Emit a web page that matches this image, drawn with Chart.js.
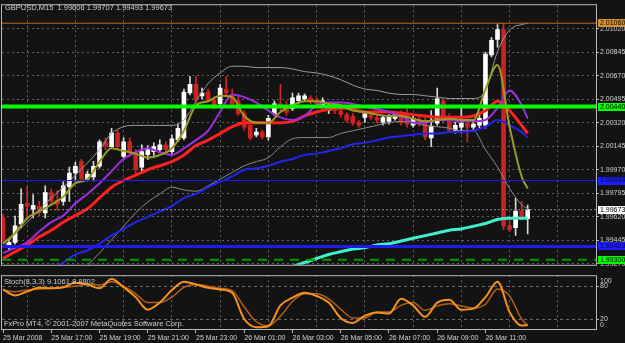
<!DOCTYPE html>
<html>
<head>
<meta charset="utf-8">
<script src="https://cdn.jsdelivr.net/npm/chart.js@4.4.1/dist/chart.umd.min.js"></script>
<style>
  html, body { margin: 0; padding: 0; background: #131313; }
  #wrap { position: relative; width: 625px; height: 343px; overflow: hidden; }
  #priceChart { position: absolute; left: 0; top: 0; }
  #stochChart { position: absolute; left: 0; top: 270px; }
</style>
</head>
<body>
<div id="wrap">
  <canvas id="priceChart" width="625" height="270"></canvas>
  <canvas id="stochChart" width="625" height="73"></canvas>
</div>
<script>
const symbol = 'GBPUSD,M15'

// time axis labels, one every 8 bars (2 hours of M15)
const timeLabels = ['25 Mar 2008', '25 Mar 17:00', '25 Mar 19:00', '25 Mar 21:00', '25 Mar 23:00',
  '26 Mar 01:00', '26 Mar 03:00', '26 Mar 05:00', '26 Mar 07:00', '26 Mar 09:00', '26 Mar 11:00']
const labelBars = [0, 8, 16, 24, 32, 40, 48, 56, 64, 72, 80]

// candles, bar 0 = 25 Mar 15:00
const open = [1.99612, 1.99401, 1.99430, 1.99568, 1.99720, 1.99677, 1.99699, 1.99648, 1.99800, 1.99742,
  1.99735, 1.99844, 1.99946, 2.00033, 1.99902, 1.99916, 1.99996, 2.00178, 2.00142, 2.00243,
  2.00069, 2.00178, 2.00098, 1.99989, 2.00083, 2.00105, 2.00120, 2.00156, 2.00105, 2.00192,
  2.00207, 2.00541, 2.00606, 2.00519, 2.00548, 2.00490, 2.00461, 2.00570, 2.00519, 2.00483,
  2.00388, 2.00301, 2.00229, 2.00250, 2.00214, 2.00388, 2.00461, 2.00446, 2.00425, 2.00483,
  2.00497, 2.00505, 2.00483, 2.00454, 2.00410, 2.00439, 2.00410, 2.00381, 2.00367, 2.00323,
  2.00359, 2.00381, 2.00359, 2.00323, 2.00330, 2.00352, 2.00396, 2.00388, 2.00301, 2.00345,
  2.00338, 2.00207, 2.00316, 2.00483, 2.00352, 2.00265, 2.00287, 2.00316, 2.00287, 2.00301,
  2.00301, 2.00824, 2.00940, 2.01013, 1.99553, 1.99539, 1.99662, 1.99606]
const high = [1.99641, 1.99452, 1.99626, 1.99829, 1.99844, 1.99786, 1.99735, 1.99851, 1.99829, 1.99815,
  1.99880, 1.99989, 2.00025, 2.00047, 1.99960, 2.00033, 2.00192, 2.00207, 2.00279, 2.00265,
  2.00207, 2.00207, 2.00120, 2.00156, 2.00149, 2.00171, 2.00192, 2.00178, 2.00229, 2.00309,
  2.00570, 2.00664, 2.00664, 2.00577, 2.00570, 2.00512, 2.00606, 2.00664, 2.00570, 2.00512,
  2.00410, 2.00323, 2.00279, 2.00265, 2.00374, 2.00483, 2.00606, 2.00483, 2.00541, 2.00541,
  2.00534, 2.00519, 2.00505, 2.00505, 2.00468, 2.00461, 2.00432, 2.00396, 2.00388, 2.00338,
  2.00403, 2.00396, 2.00374, 2.00374, 2.00381, 2.00396, 2.00410, 2.00425, 2.00374, 2.00367,
  2.00359, 2.00410, 2.00577, 2.00497, 2.00388, 2.00323, 2.00446, 2.00338, 2.00330, 2.00374,
  2.00846, 2.00955, 2.01050, 2.01060, 1.99597, 1.99757, 1.99735, 1.99707]
const low = [1.99423, 1.99372, 1.99416, 1.99539, 1.99612, 1.99612, 1.99626, 1.99612, 1.99706, 1.99670,
  1.99706, 1.99735, 1.99887, 1.99880, 1.99887, 1.99887, 1.99982, 2.00120, 2.00127, 2.00120,
  2.00047, 2.00069, 1.99938, 1.99946, 2.00047, 2.00076, 2.00105, 2.00098, 2.00091, 2.00178,
  2.00192, 2.00526, 2.00461, 2.00497, 2.00475, 2.00425, 2.00446, 2.00519, 2.00439, 2.00374,
  2.00265, 2.00192, 2.00214, 2.00200, 2.00192, 2.00374, 2.00410, 2.00374, 2.00410, 2.00461,
  2.00483, 2.00461, 2.00439, 2.00432, 2.00388, 2.00388, 2.00359, 2.00323, 2.00301, 2.00287,
  2.00323, 2.00345, 2.00316, 2.00301, 2.00309, 2.00338, 2.00301, 2.00287, 2.00287, 2.00294,
  2.00192, 2.00142, 2.00301, 2.00316, 2.00250, 2.00243, 2.00243, 2.00178, 2.00265, 2.00279,
  2.00279, 2.00809, 2.00882, 1.99524, 1.99510, 1.99481, 1.99597, 1.99493]
const close = [1.99445, 1.99430, 1.99553, 1.99713, 1.99699, 1.99706, 1.99655, 1.99800, 1.99735, 1.99713,
  1.99851, 1.99946, 1.99996, 1.99902, 1.99938, 1.99996, 2.00178, 2.00149, 2.00243, 2.00142,
  2.00178, 2.00098, 1.99975, 2.00105, 2.00120, 2.00142, 2.00156, 2.00120, 2.00200, 2.00279,
  2.00548, 2.00606, 2.00490, 2.00541, 2.00490, 2.00454, 2.00577, 2.00541, 2.00461, 2.00388,
  2.00287, 2.00207, 2.00250, 2.00214, 2.00352, 2.00461, 2.00432, 2.00396, 2.00505, 2.00519,
  2.00519, 2.00483, 2.00461, 2.00483, 2.00446, 2.00410, 2.00381, 2.00338, 2.00316, 2.00301,
  2.00388, 2.00359, 2.00338, 2.00359, 2.00367, 2.00381, 2.00323, 2.00309, 2.00352, 2.00316,
  2.00214, 2.00294, 2.00497, 2.00338, 2.00265, 2.00301, 2.00316, 2.00287, 2.00309, 2.00352,
  2.00831, 2.00933, 2.01013, 1.99553, 1.99524, 1.99662, 1.99606, 1.99673]

// indicator lines, read every second bar
const lineBars = [0, 2, 4, 6, 8, 10, 12, 14, 16, 18, 20, 22, 24, 26, 28, 30, 32, 34, 36, 38, 40, 42,
  44, 46, 48, 50, 52, 54, 56, 58, 60, 62, 64, 66, 68, 70, 72, 74, 76, 78, 80, 82, 84, 86, 87]
const maOlive = [1.9942, 1.9950, 1.9961, 1.9966, 1.9971, 1.9977, 1.9987, 1.9990, 2.0003, 2.0013,
  2.0011, 2.0009, 2.0006, 2.0008, 2.0013, 2.0026, 2.0045, 2.0048, 2.0052, 2.0051,
  2.0037, 2.0032, 2.0032, 2.0040, 2.0045, 2.0048, 2.0048, 2.0046, 2.0045, 2.0041,
  2.0040, 2.0038, 2.0037, 2.0037, 2.0035, 2.0033, 2.0034, 2.0035, 2.0034, 2.0034,
  2.0057, 2.0075, 2.0029, 1.9992, 1.9983]
const maPurple = [1.9935, 1.9939, 1.9943, 1.9951, 1.9958, 1.9963, 1.9972, 1.9979, 1.9987, 1.9996,
  2.0005, 2.0010, 2.0013, 2.0010, 2.0008, 2.0013, 2.0019, 2.0026, 2.0040, 2.0053,
  2.0051, 2.0047, 2.0041, 2.0036, 2.0034, 2.0037, 2.0045, 2.0047, 2.0047, 2.0046,
  2.0044, 2.0042, 2.0040, 2.0037, 2.0032, 2.0032, 2.0034, 2.0034, 2.0033, 2.0033,
  2.0034, 2.0043, 2.0056, 2.0045, 2.0035]
const maRed = [1.9931, 1.9936, 1.9941, 1.9947, 1.9952, 1.9958, 1.9963, 1.9968, 1.9976, 1.9984,
  1.9989, 1.9993, 1.9997, 2.0000, 2.0003, 2.0008, 2.0015, 2.0019, 2.0024, 2.0029,
  2.0032, 2.0032, 2.0032, 2.0032, 2.0033, 2.0037, 2.0040, 2.0042, 2.0043, 2.0042,
  2.0040, 2.0040, 2.0040, 2.0039, 2.0038, 2.0037, 2.0036, 2.0036, 2.0036, 2.0037,
  2.0041, 2.0048, 2.0041, 2.0030, 2.0024]
const maBlue = [null, null, null, null, 1.9923, 1.9928, 1.9934, 1.9937, 1.9942, 1.9948,
  1.9953, 1.9958, 1.9962, 1.9966, 1.9970, 1.9976, 1.9979, 1.9984, 1.9988, 1.9992,
  1.9997, 1.9998, 2.0000, 2.0003, 2.0005, 2.0008, 2.0009, 2.0011, 2.0013, 2.0016,
  2.0017, 2.0019, 2.0021, 2.0022, 2.0023, 2.0024, 2.0024, 2.0025, 2.0025, 2.0026,
  2.0029, 2.0034, 2.0030, 2.0025, 2.0021]
const maAqua = [null, null, null, null, null, null, null, null, null, null,
  null, null, null, null, null, null, null, null, null, null,
  null, null, null, null, 1.9925, 1.9928, 1.9931, 1.9934, 1.9936, 1.9938,
  1.9939, 1.9941, 1.9942, 1.9944, 1.9946, 1.9948, 1.9950, 1.9952, 1.9953, 1.9955,
  1.9957, 1.9960, 1.9961, 1.9961, 1.9961]
const bandUpper = [1.9939, 1.9949, 1.9958, 1.9967, 1.9976, 1.9984, 1.9993, 2.0002, 2.0012, 2.0024,
  2.0029, 2.0030, 2.0030, 2.0030, 2.0030, 2.0034, 2.0048, 2.0061, 2.0069, 2.0074,
  2.0074, 2.0073, 2.0073, 2.0073, 2.0072, 2.0070, 2.0069, 2.0067, 2.0064, 2.0060,
  2.0057, 2.0056, 2.0054, 2.0053, 2.0053, 2.0052, 2.0051, 2.0050, 2.0050, 2.0050,
  2.0056, 2.0085, 2.0101, 2.0105, 2.0106]
const bandLower = [null, null, null, null, null, null, null, 1.9926, 1.9935, 1.9945,
  1.9955, 1.9965, 1.9973, 1.9979, 1.9984, 1.9982, 1.9981, 1.9985, 1.9990, 1.9995,
  2.0000, 2.0003, 2.0006, 2.0014, 2.0020, 2.0021, 2.0021, 2.0021, 2.0024, 2.0026,
  2.0028, 2.0030, 2.0032, 2.0033, 2.0032, 2.0030, 2.0029, 2.0028, 2.0026, 2.0026,
  2.0012, 1.9999, 1.9983, 1.9971, 1.9968]

// Stoch(8,3,3)
const stochMain = [74, 63, 70, 77, 76, 78, 86, 83, 76, 93, 78, 60, 37, 50, 73, 88, 83, 77, 74, 68,
  20, 5, 7, 45, 59, 68, 62, 50, 22, 13, 26, 32, 30, 57, 45, 24, 50, 55, 37, 39, 60, 88, 33, 8, 9.1061]
const stochSignal = [73, 70, 73, 75, 76, 78, 80, 83, 82, 88, 80, 66, 50, 50, 60, 78, 83, 80, 76, 72,
  42, 15, 8, 25, 52, 66, 66, 57, 38, 22, 22, 33, 33, 45, 50, 36, 44, 48, 44, 40, 47, 75, 62, 20, 8.8802]
const stochLevels = [20, 80]

const priceTicks = [1.99270, 1.99445, 1.99620, 1.99795, 1.99970, 2.00145, 2.00320, 2.00495, 2.00670, 2.00845, 2.01020]
// horizontal lines: day high, resistance, support lines
const levelPrices = [2.01060, 2.00440, 1.99890, 1.99400, 1.99300]

// ---- styles ----
const font = 'Liberation Sans, Arial, sans-serif'
const textClr = '#d0d0d0'
const gridClr = '#5e645e'
const frameClr = '#b8b8b8'
const levelStyles = [
  { color: '#cc6a1e', width: 1, dash: [], tag: '#d8902c', ink: '#000000' },
  { color: '#00ff00', width: 4, dash: [], tag: '#00ff00', ink: '#000000' },
  { color: '#1c1cf0', width: 1, dash: [], tag: '#1c1cff', ink: '#000060' },
  { color: '#1c1cf0', width: 3, dash: [], tag: '#1c1cff', ink: '#000060' },
  { color: '#009a00', width: 2, dash: [9, 7], tag: '#00ff00', ink: '#000000' },
]

const xMin = -0.17
const xMax = 98.33
const last = close.length - 1
// vertical grid sits half way between the time labels
const gridBars = Array.from({ length: 12 }, (_, k) => 4 + k * 8)
const axisBars = Array.from({ length: 25 }, (_, k) => k * 4)
const fmt = (v) => v.toFixed(5)
const isUp = (i) => close[i] >= open[i]
const toPoints = (values) => lineBars.map((b, k) => ({ x: b, y: values[k] }))

Chart.defaults.font.family = font

const line = (values, color, width, order) => ({
  type: 'line',
  data: toPoints(values),
  borderColor: color,
  borderWidth: width,
  pointRadius: 0,
  cubicInterpolationMode: 'monotone',
  order: order,
})

const hLine = (price, style, order) => ({
  type: 'line',
  data: [{ x: xMin, y: price }, { x: xMax, y: price }],
  borderColor: style.color,
  borderWidth: style.width,
  borderDash: style.dash,
  pointRadius: 0,
  order: order,
})

const barIdx = open.map((_, i) => i)

const priceOverlay = {
  id: 'priceOverlay',
  afterDraw: (chart) => {
    const { ctx, chartArea: a, scales } = chart
    ctx.save()
    ctx.strokeStyle = frameClr
    ctx.lineWidth = 1
    ctx.strokeRect(a.left - 0.5, a.top - 0.5, a.right - a.left + 1, a.bottom - a.top + 1)

    const tags = levelPrices.map((p, k) => ({ v: p, bg: levelStyles[k].tag, ink: levelStyles[k].ink }))
    tags.push({ v: close[last], bg: '#ffffff', ink: '#000000' })
    ctx.font = '7px ' + font
    ctx.textBaseline = 'middle'
    tags.forEach((t) => {
      const y = scales.y.getPixelForValue(t.v)
      ctx.fillStyle = t.bg
      ctx.fillRect(a.right + 2, Math.round(y) - 4, 625 - a.right - 2, 8)
      ctx.fillStyle = t.ink
      ctx.fillText(fmt(t.v), a.right + 4, y)
    })

    ctx.fillStyle = textClr
    ctx.font = '7.5px ' + font
    ctx.fillText(`${symbol}  ${fmt(open[last])} ${fmt(high[last])} ${fmt(low[last])} ${fmt(close[last])}`, 5, 8)
    ctx.restore()
  },
}

new Chart(document.getElementById('priceChart'), {
  type: 'bar',
  data: {
    datasets: [
      ...levelPrices.map((p, k) => hLine(p, levelStyles[k], 0)),
      hLine(close[last], { color: '#8a8a8a', width: 1, dash: [2, 2] }, 1),
      line(maOlive, '#9c9c22', 2, 2),
      line(maPurple, '#9d2ee0', 2, 3),
      line(maRed, '#ff2020', 3, 4),
      line(maAqua, '#3ff0cc', 3, 5),
      line(maBlue, '#2424f0', 2, 6),
      line(bandUpper, '#9a9a9a', 1, 7),
      line(bandLower, '#8a8a8a', 1, 8),
      {
        type: 'bar',
        data: barIdx.map((i) => ({ x: i, y: [open[i], close[i]] })),
        backgroundColor: (c) => (isUp(c.dataIndex) ? '#ffffff' : '#cc2222'),
        barThickness: 4,
        minBarLength: 1,
        grouped: false,
        order: 9,
      },
      {
        type: 'bar',
        data: barIdx.map((i) => ({ x: i, y: [low[i], high[i]] })),
        backgroundColor: (c) => (isUp(c.dataIndex) ? '#d8d8d8' : '#d42424'),
        barThickness: 1,
        grouped: false,
        order: 10,
      },
    ],
  },
  options: {
    responsive: false,
    animation: false,
    layout: { padding: { left: 2, top: 2, right: 0, bottom: 2 }, autoPadding: false },
    plugins: { legend: { display: false }, tooltip: { enabled: false } },
    scales: {
      x: {
        type: 'linear',
        min: xMin,
        max: xMax,
        offset: false,
        afterBuildTicks: (ax) => { ax.ticks = gridBars.map((v) => ({ value: v })) },
        ticks: { display: false },
        grid: { color: gridClr, drawTicks: false, offset: false },
        border: { display: false, dash: [2, 3] },
        afterFit: (ax) => { ax.height = 0 },
      },
      y: {
        position: 'right',
        min: 1.99263,
        max: 2.01194,
        afterBuildTicks: (ax) => { ax.ticks = priceTicks.map((v) => ({ value: v })) },
        ticks: {
          autoSkip: false,
          color: textClr,
          font: { size: 7 },
          padding: 1,
          callback: (v) => fmt(v),
        },
        grid: { color: gridClr, tickColor: frameClr, tickLength: 3 },
        border: { display: false, dash: [2, 3] },
        afterFit: (ax) => { ax.width = 29 },
      },
    },
  },
  plugins: [priceOverlay],
})

const stochOverlay = {
  id: 'stochOverlay',
  afterDraw: (chart) => {
    const { ctx, chartArea: a } = chart
    ctx.save()
    ctx.strokeStyle = frameClr
    ctx.lineWidth = 1
    ctx.strokeRect(a.left - 0.5, a.top + 0.5, a.right - a.left + 1, a.bottom - a.top - 1)
    ctx.fillStyle = textClr
    ctx.font = '7px ' + font
    ctx.textBaseline = 'middle'
    ctx.fillText('100', a.right + 4, a.top + 6)
    ctx.fillText('0', a.right + 4, a.bottom - 5)
    ctx.font = '7.5px ' + font
    ctx.fillText(`Stoch(8,3,3) ${stochMain[stochMain.length - 1].toFixed(4)} ${stochSignal[stochSignal.length - 1].toFixed(4)}`, 4, a.top + 7)
    ctx.fillText('FxPro MT4, \u00a9 2001-2007 MetaQuotes Software Corp.', 4, a.bottom - 6)
    ctx.restore()
  },
}

new Chart(document.getElementById('stochChart'), {
  type: 'line',
  data: {
    datasets: [
      { data: toPoints(stochMain), borderColor: '#f7921c', borderWidth: 2, pointRadius: 0, cubicInterpolationMode: 'monotone' },
      { data: toPoints(stochSignal), borderColor: '#b45e1c', borderWidth: 1.5, pointRadius: 0, cubicInterpolationMode: 'monotone' },
    ],
  },
  options: {
    responsive: false,
    animation: false,
    layout: { padding: { left: 2, top: 0, right: 0, bottom: 0 }, autoPadding: false },
    plugins: { legend: { display: false }, tooltip: { enabled: false } },
    scales: {
      x: {
        type: 'linear',
        min: xMin,
        max: xMax,
        afterBuildTicks: (ax) => { ax.ticks = axisBars.map((v) => ({ value: v })) },
        ticks: {
          autoSkip: false,
          maxRotation: 0,
          align: 'start',
          color: textClr,
          font: { size: 7 },
          padding: 1,
          callback: (v) => {
            const k = labelBars.indexOf(v)
            return k >= 0 ? timeLabels[k] : ''
          },
        },
        grid: {
          color: (c) => (c.tick && c.tick.value % 8 === 4 ? gridClr : 'rgba(0,0,0,0)'),
          tickColor: (c) => (c.tick && labelBars.includes(c.tick.value) ? frameClr : 'rgba(0,0,0,0)'),
          tickLength: 3,
        },
        border: { display: false, dash: [2, 3] },
        afterFit: (ax) => { ax.height = 13 },
      },
      y: {
        position: 'right',
        min: 0,
        max: 100,
        afterBuildTicks: (ax) => { ax.ticks = stochLevels.map((v) => ({ value: v })) },
        ticks: { autoSkip: false, color: textClr, font: { size: 7 }, padding: 1 },
        grid: { color: '#6a6a6a', tickColor: frameClr, tickLength: 3 },
        border: { display: false, dash: [3, 3] },
        afterFit: (ax) => { ax.width = 29 },
      },
    },
  },
  plugins: [stochOverlay],
})
</script>
</body>
</html>
